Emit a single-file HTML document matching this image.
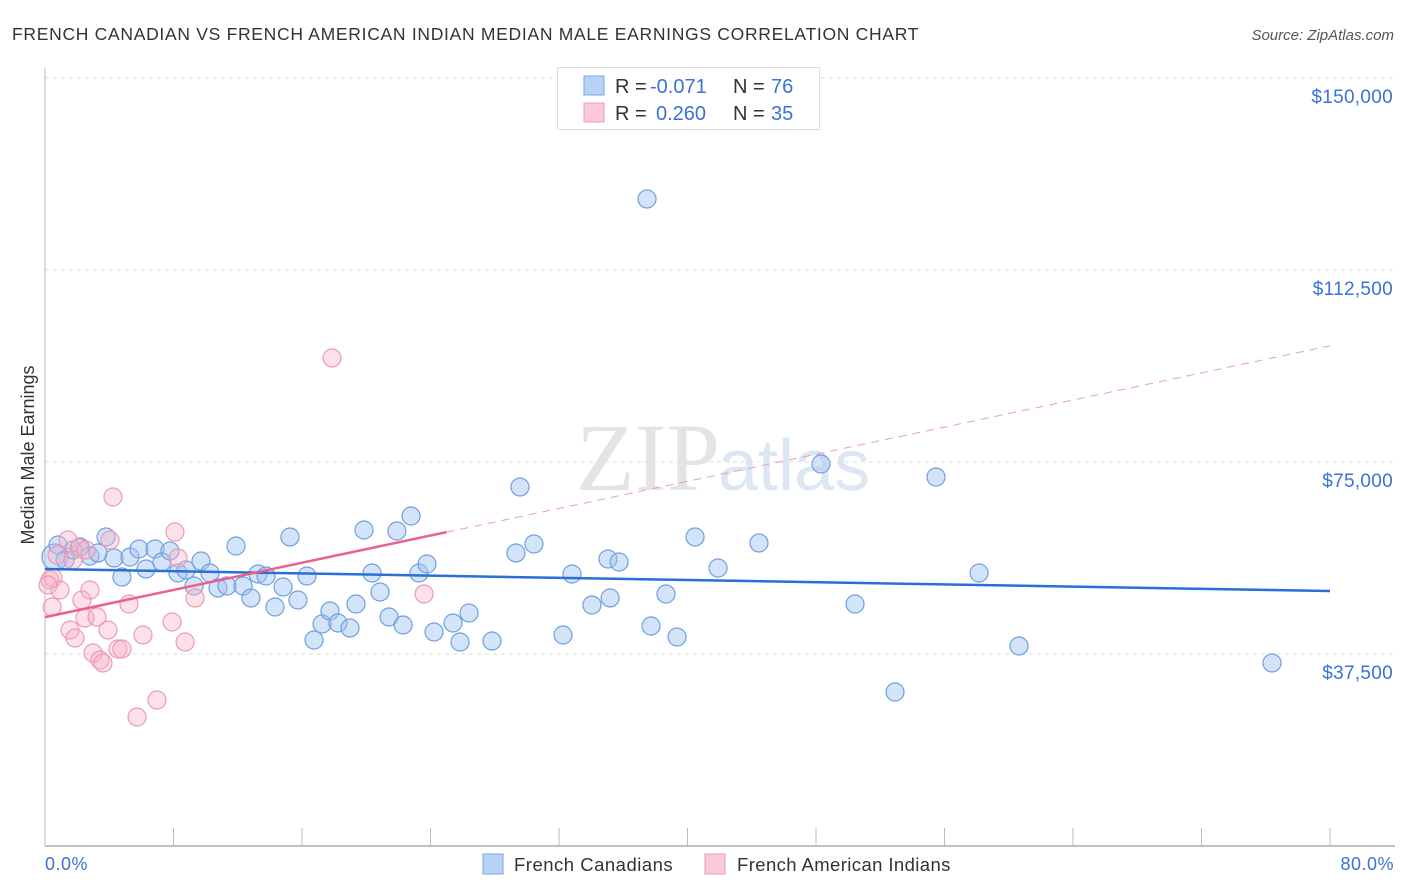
<!DOCTYPE html>
<html><head><meta charset="utf-8"><style>
body{margin:0;background:#fff;font-family:"Liberation Sans",sans-serif;}
svg{display:block}
</style></head><body>
<svg id="chart" width="1406" height="892">
<text x="12" y="40" font-size="17.5" fill="#333" letter-spacing="0.7">FRENCH CANADIAN VS FRENCH AMERICAN INDIAN MEDIAN MALE EARNINGS CORRELATION CHART</text>
<text x="1394" y="40" font-size="15" fill="#555" font-style="italic" text-anchor="end">Source: ZipAtlas.com</text>
<text x="34" y="455" font-size="18" fill="#333" text-anchor="middle" transform="rotate(-90 34 455)">Median Male Earnings</text>
<text x="720" y="490" font-size="96" fill="#e4e4e4" text-anchor="end" font-family="Liberation Serif,serif">ZIP</text>
<text x="718" y="490" font-size="72" fill="#dce6f4">atlas</text>
<g id="grid"></g><g id="pts"></g><g id="trends"></g>
<g>
<rect x="557.5" y="67.5" width="262" height="62" fill="#fff" stroke="#ddd"/>
<rect x="584" y="76" width="20" height="19" fill="#b9d3f5" stroke="#7aa6e6"/>
<rect x="584" y="103" width="20" height="19" fill="#fbc9d8" stroke="#ee9ab4"/>
<text x="615" y="93" font-size="20" fill="#333">R = <tspan x="650" fill="#3a72d8">-0.071</tspan><tspan x="733">N = </tspan><tspan x="771" fill="#3a72d8">76</tspan></text>
<text x="615" y="120" font-size="20" fill="#333">R = <tspan x="656" fill="#3a72d8">0.260</tspan><tspan x="733">N = </tspan><tspan x="771" fill="#3a72d8">35</tspan></text>
</g>
<text x="45" y="870" font-size="18" fill="#3a72d8" letter-spacing="0.5">0.0%</text>
<text x="1394" y="870" font-size="18" fill="#3a72d8" text-anchor="end" letter-spacing="0.5">80.0%</text>
<rect x="483" y="854" width="20" height="20" fill="#b9d3f5" stroke="#7aa6e6"/>
<text x="514" y="871" font-size="18.5" fill="#333" letter-spacing="0.5">French Canadians</text>
<rect x="705" y="854" width="20" height="20" fill="#fbc9d8" stroke="#ee9ab4"/>
<text x="737" y="871" font-size="18.5" fill="#333" letter-spacing="0.4">French American Indians</text>
</svg>
<script>
const yTicks=[37500,75000,112500,150000];
const yTickLabels=["$37,500","$75,000","$112,500","$150,000"];
const xTicks=[0,8,16,24,32,40,48,56,64,72,80];
const bluePx=[[55,557],[58,545],[65,560],[73,550],[80,547],[90,556],[98,553],[106,537],[114,558],[122,577],[130,557],[139,549],[146,569],[155,549],[162,562],[170,551],[178,573],[186,570],[194,586],[201,561],[210,573],[218,588],[227,586],[236,546],[243,586],[251,598],[258,574],[266,576],[275,607],[283,587],[290,537],[298,600],[307,576],[314,640],[322,624],[330,611],[338,623],[350,628],[356,604],[364,530],[372,573],[380,592],[389,617],[397,531],[403,625],[411,516],[419,573],[427,564],[434,632],[453,623],[460,642],[469,613],[492,641],[516,553],[520,487],[534,544],[563,635],[572,574],[592,605],[608,559],[610,598],[619,562],[651,626],[666,594],[677,637],[695,537],[718,568],[759,543],[821,464],[855,604],[895,692],[936,477],[979,573],[1019,646],[1272,663],[647,199]];
const pinkPx=[[50,580],[52,607],[57,555],[68,540],[70,630],[75,638],[79,548],[82,600],[85,618],[90,590],[93,653],[97,617],[100,660],[103,663],[108,630],[113,497],[118,649],[122,649],[129,604],[137,717],[143,635],[157,700],[172,622],[175,532],[178,558],[185,642],[195,598],[332,358],[424,594],[53,578],[60,590],[73,560],[86,550],[110,540],[48,585]];
// data arrays: [percent, earnings]
const blueX=bluePx.map(p=>+((p[0]-45)/16.0625).toFixed(2));
const blueY=bluePx.map(p=>Math.round((846-p[1])*37500/192));
const pinkX=pinkPx.map(p=>+((p[0]-45)/16.0625).toFixed(2));
const pinkY=pinkPx.map(p=>Math.round((846-p[1])*37500/192));
const blueTrend=[[0,54100],[80,49800]];
const pinkTrend=[[0,44700],[25,61300],[80,97700]];
const X=v=>45+v*16.0625, Y=v=>846-v*192/37500;
const NS="http://www.w3.org/2000/svg";
function mk(t,a,p){const e=document.createElementNS(NS,t);for(const k in a)e.setAttribute(k,a[k]);p.appendChild(e);return e;}
const grid=document.getElementById('grid');
yTicks.forEach((t,i)=>{
 const l=mk('line',{x1:45,x2:1395,y1:Y(t),y2:Y(t),stroke:'#ddd','stroke-dasharray':'4 4'},grid);
 
 
 const tx=mk('text',{x:1393,y:Y(t)+25,'font-size':19,fill:'#3a72d8','text-anchor':'end','letter-spacing':0.3},grid);
 tx.textContent=yTickLabels[i];
 
 
});
const ax=mk('line',{x1:45,x2:1395,y1:846,y2:846,stroke:'#aaa','stroke-width':1.5},grid);


const yx=mk('line',{x1:45,x2:45,y1:68,y2:846,stroke:'#bbb'},grid);


xTicks.forEach(t=>{
 const l=mk('line',{x1:X(t),x2:X(t),y1:828,y2:846,stroke:'#bbb'},grid);
 
 
});
const pts=document.getElementById('pts');
blueX.forEach((x,i)=>{
 const c=mk('circle',{cx:X(x),cy:Y(blueY[i]),r:i==0?13:9,fill:'rgba(160,195,240,0.45)',stroke:'#6d9fe0','stroke-width':1.2},pts);
 
 
});
pinkX.forEach((x,i)=>{
 const c=mk('circle',{cx:X(x),cy:Y(pinkY[i]),r:9,fill:'rgba(248,180,200,0.4)',stroke:'#ec9ab2','stroke-width':1.2},pts);
 
 
});
const tr=document.getElementById('trends');
const bl=mk('line',{x1:X(blueTrend[0][0]),y1:Y(blueTrend[0][1]),x2:X(blueTrend[1][0]),y2:Y(blueTrend[1][1]),stroke:'#2a6fd6','stroke-width':2.5},tr);


const ps=mk('line',{x1:X(pinkTrend[0][0]),y1:Y(pinkTrend[0][1]),x2:X(pinkTrend[1][0]),y2:Y(pinkTrend[1][1]),stroke:'#e8628c','stroke-width':2.5},tr);


const pd=mk('line',{x1:X(pinkTrend[1][0]),y1:Y(pinkTrend[1][1]),x2:X(pinkTrend[2][0]),y2:Y(pinkTrend[2][1]),stroke:'#e8a0b6','stroke-width':1,'stroke-dasharray':'8 6'},tr);


</script>
</body></html>
